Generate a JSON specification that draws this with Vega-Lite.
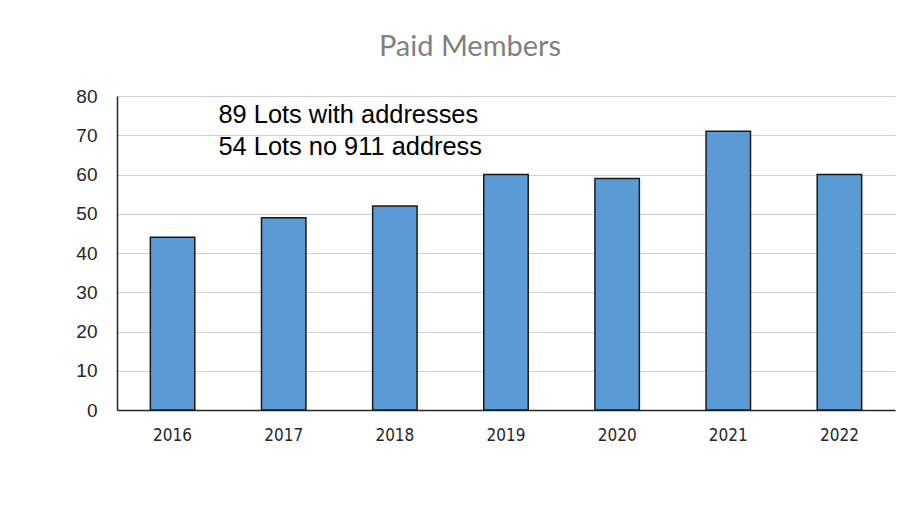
{
  "$schema": "https://vega.github.io/schema/vega-lite/v6.json",
  "autosize": {"type": "none"},
  "width": 778,
  "height": 314,
  "padding": {"left": 117, "top": 96, "right": 16, "bottom": 96},
  "background": "white",
  "title": {
    "text": "Paid Members",
    "font": "Lato",
    "fontSize": 29,
    "fontWeight": "normal",
    "color": "#808080",
    "anchor": "middle",
    "dx": -36,
    "offset": 25
  },
  "config": {
    "view": {"stroke": null},
    "axis": {"labelColor": "#262626", "domainColor": "#262626", "ticks": false, "domainWidth": 1.5},
    "axisX": {"labelFont": "DejaVu Sans Condensed, Open Sans", "labelFontSize": 17, "labelPadding": 17, "labelAngle": 0, "grid": false},
    "axisY": {"labelFont": "Liberation Sans", "labelFontSize": 19, "labelPadding": 20, "gridColor": "#d0d0d0", "gridWidth": 1.2, "labelOverlap": false}
  },
  "datasets": {
    "bars": [
      {"year": "2016", "members": 44},
      {"year": "2017", "members": 49},
      {"year": "2018", "members": 52},
      {"year": "2019", "members": 60},
      {"year": "2020", "members": 59},
      {"year": "2021", "members": 71},
      {"year": "2022", "members": 60}
    ],
    "notes": [
      {"year": "2017", "y": 75.2, "label": "89 Lots with addresses"},
      {"year": "2017", "y": 67.0, "label": "54 Lots no 911 address"}
    ]
  },
  "layer": [
    {
      "data": {"name": "bars"},
      "mark": {"type": "bar", "color": "#5b9bd5", "stroke": "#1a1a1a", "strokeWidth": 1.5},
      "encoding": {
        "x": {
          "field": "year", "type": "ordinal", "title": null,
          "scale": {"paddingInner": 0.6, "paddingOuter": 0.3}
        },
        "y": {
          "field": "members", "type": "quantitative", "title": null,
          "scale": {"domain": [0, 80]},
          "axis": {"values": [0,10,20,30,40,50,60,70,80]}
        }
      }
    },
    {
      "data": {"name": "notes"},
      "mark": {"type": "text", "align": "left", "baseline": "middle", "font": "Liberation Sans", "fontSize": 25.4, "color": "#000000", "dx": -43},
      "encoding": {
        "x": {"field": "year", "type": "ordinal", "bandPosition": 0, "title": null},
        "y": {"field": "y", "type": "quantitative", "title": null, "axis": {"values": [0,10,20,30,40,50,60,70,80]}},
        "text": {"field": "label"}
      }
    }
  ]
}
